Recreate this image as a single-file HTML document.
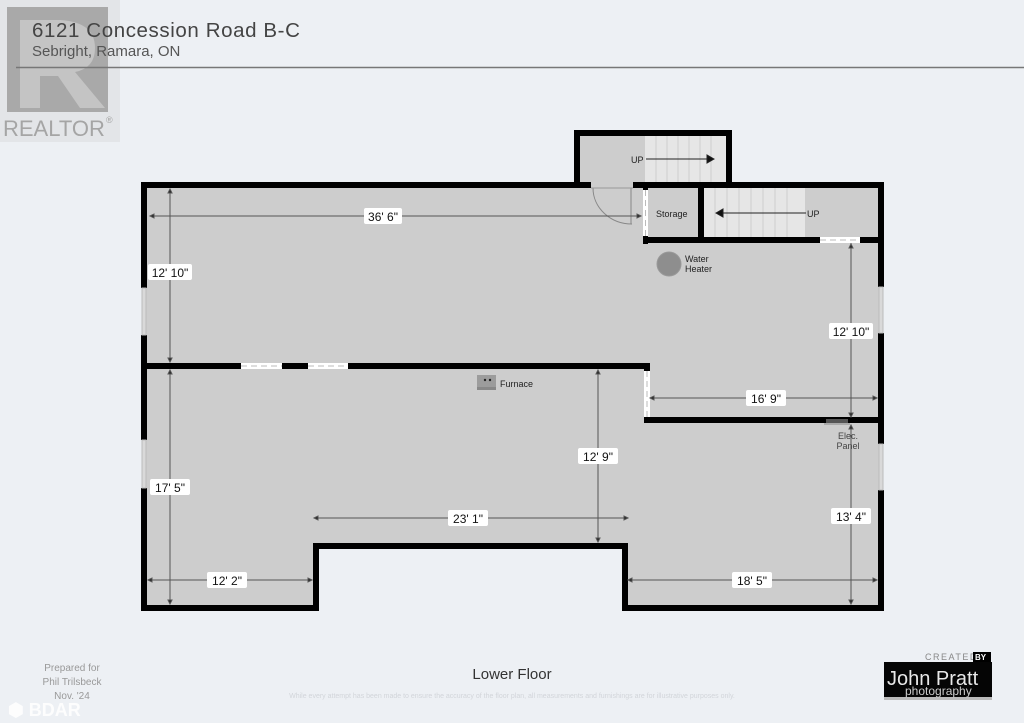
<!DOCTYPE html>
<html><head><meta charset="utf-8"><style>
html,body{margin:0;padding:0;background:#edf0f4;}
body{width:1024px;height:723px;position:relative;overflow:hidden;font-family:"Liberation Sans",sans-serif;}
</style></head><body>
<svg width="1024" height="723" viewBox="0 0 1024 723" xmlns="http://www.w3.org/2000/svg" style="position:absolute;left:0;top:0">
<rect width="1024" height="723" fill="#edf0f4"/>
<!-- realtor logo -->
<rect x="0" y="0" width="120" height="142" fill="#e3e5e8"/>
<rect x="7" y="7" width="101" height="105" fill="#a9a9a9"/>
<path d="M20 20 H60 Q95 22 95 48 Q95 68 75 72 L105 108 H80 L58 76 H40 V108 H20 Z" fill="#c4c4c4"/>
<text x="3" y="136" font-size="22" fill="#a5a5a5" font-family="Liberation Sans,sans-serif">REALTOR</text>
<text x="106" y="123" font-size="9" fill="#a5a5a5">®</text>
<!-- title -->
<text x="32" y="37" font-size="20.5" fill="#444" letter-spacing="0.6">6121 Concession Road B-C</text>
<text x="32" y="56" font-size="15" fill="#555">Sebright, Ramara, ON</text>
<line x1="16" y1="67.5" x2="1024" y2="67.5" stroke="#777" stroke-width="1.5"/>
<!-- floor fills -->
<path d="M144 185 H880 V608 H625 V546 H316 V608 H144 Z" fill="#cdcdcd"/>
<rect x="577" y="133" width="152" height="54" fill="#cdcdcd"/>
<!-- stairs upper -->
<rect x="645" y="136" width="81" height="46" fill="#e6e6e6"/>
<g stroke="#cfcfcf" stroke-width="1">
<line x1="656" y1="136" x2="656" y2="182"/><line x1="667" y1="136" x2="667" y2="182"/><line x1="678" y1="136" x2="678" y2="182"/><line x1="689" y1="136" x2="689" y2="182"/><line x1="700" y1="136" x2="700" y2="182"/><line x1="711" y1="136" x2="711" y2="182"/>
</g>
<!-- stairs lower -->
<rect x="704" y="188" width="101" height="50" fill="#e6e6e6"/>
<g stroke="#cfcfcf" stroke-width="1">
<line x1="715" y1="188" x2="715" y2="238"/><line x1="727" y1="188" x2="727" y2="238"/><line x1="739" y1="188" x2="739" y2="238"/><line x1="751" y1="188" x2="751" y2="238"/><line x1="763" y1="188" x2="763" y2="238"/><line x1="775" y1="188" x2="775" y2="238"/><line x1="787" y1="188" x2="787" y2="238"/>
</g>
<!-- walls -->
<g fill="#000">
<rect x="141" y="182" width="450" height="6"/>
<rect x="633" y="182" width="251" height="6"/>
<rect x="574" y="130" width="158" height="6"/>
<rect x="574" y="130" width="6" height="58"/>
<rect x="726" y="130" width="6" height="58"/>
<rect x="141" y="182" width="6" height="106"/>
<rect x="141" y="335" width="6" height="105"/>
<rect x="141" y="488" width="6" height="123"/>
<rect x="141" y="605" width="177" height="6"/>
<rect x="313" y="543" width="6" height="68"/>
<rect x="313" y="543" width="315" height="6"/>
<rect x="622" y="543" width="6" height="68"/>
<rect x="622" y="605" width="262" height="6"/>
<rect x="878" y="182" width="6" height="105"/>
<rect x="878" y="333" width="6" height="111"/>
<rect x="878" y="490" width="6" height="121"/>
<rect x="643" y="182" width="5" height="62"/>
<rect x="643" y="237" width="177" height="6"/>
<rect x="860" y="237" width="24" height="6"/>
<rect x="698" y="182" width="6" height="60"/>
<rect x="141" y="363" width="100" height="6"/>
<rect x="282" y="363" width="26" height="6"/>
<rect x="348" y="363" width="302" height="6"/>
<rect x="644" y="363" width="6" height="8"/>
<rect x="644" y="417" width="240" height="6"/>
</g>
<!-- door openings -->
<g>
<rect x="643" y="190" width="5" height="46" fill="#fff"/>
<line x1="645.5" y1="190" x2="645.5" y2="236" stroke="#bbb" stroke-width="1" stroke-dasharray="6,4"/>
<rect x="820" y="237" width="40" height="6" fill="#fff"/>
<line x1="820" y1="240" x2="860" y2="240" stroke="#bbb" stroke-dasharray="6,4"/>
<rect x="241" y="363" width="41" height="6" fill="#fff"/>
<line x1="241" y1="366" x2="282" y2="366" stroke="#bbb" stroke-dasharray="6,4"/>
<rect x="308" y="363" width="40" height="6" fill="#fff"/>
<line x1="308" y1="366" x2="348" y2="366" stroke="#bbb" stroke-dasharray="6,4"/>
<rect x="644" y="371" width="6" height="46" fill="#fff"/>
<line x1="647" y1="371" x2="647" y2="417" stroke="#bbb" stroke-dasharray="6,4"/>
</g>
<!-- windows -->
<g fill="#d9d9d9" stroke="#bbb" stroke-width="1">
<rect x="142" y="288" width="4" height="47"/>
<rect x="142" y="440" width="4" height="48"/>
<rect x="879" y="287" width="4" height="46"/>
<rect x="879" y="444" width="4" height="46"/>
</g>
<path d="M593 188 A39 36 0 0 0 632 224" fill="none" stroke="#888" stroke-width="1"/>
<line x1="631" y1="188" x2="631" y2="224" stroke="#888"/>
<line x1="591" y1="188" x2="633" y2="188" stroke="#999"/>
<rect x="826" y="419" width="22" height="4" fill="#555"/>
<rect x="824" y="423" width="26" height="2" fill="#aaa"/>
<circle cx="669" cy="264" r="12" fill="#8e8e8e" stroke="#999"/>
<rect x="477" y="375" width="19" height="14" fill="#9c9c9c"/>
<rect x="477" y="387" width="19" height="3" fill="#888"/>
<circle cx="485" cy="380" r="1.2" fill="#222"/><circle cx="490" cy="380" r="1.2" fill="#222"/>
<g stroke="#222" stroke-width="1" fill="#111">
<line x1="646" y1="159" x2="708" y2="159"/><path d="M714 159 L707 155 L707 163 Z"/>
<line x1="722" y1="213" x2="806" y2="213"/><path d="M716 213 L723 209 L723 217 Z"/>
</g>
<g stroke="#555" stroke-width="1" fill="#222">
<line x1="150" y1="216" x2="640" y2="216"/><path d="M150 216 l4 -2 v4z"/><path d="M641 216 l-4 -2 v4z"/>
<line x1="170" y1="190" x2="170" y2="362"/><path d="M170 189 l-2 4 h4z"/><path d="M170 362 l-2 -4 h4z"/>
<line x1="170" y1="370" x2="170" y2="604"/><path d="M170 370 l-2 4 h4z"/><path d="M170 604 l-2 -4 h4z"/>
<line x1="851" y1="243" x2="851" y2="417"/><path d="M851 244 l-2 4 h4z"/><path d="M851 417 l-2 -4 h4z"/>
<line x1="650" y1="398" x2="877" y2="398"/><path d="M650 398 l4 -2 v4z"/><path d="M877 398 l-4 -2 v4z"/>
<line x1="598" y1="370" x2="598" y2="542"/><path d="M598 370 l-2 4 h4z"/><path d="M598 542 l-2 -4 h4z"/>
<line x1="314" y1="518" x2="628" y2="518"/><path d="M314 518 l4 -2 v4z"/><path d="M628 518 l-4 -2 v4z"/>
<line x1="851" y1="425" x2="851" y2="604"/><path d="M851 425 l-2 4 h4z"/><path d="M851 604 l-2 -4 h4z"/>
<line x1="148" y1="580" x2="312" y2="580"/><path d="M148 580 l4 -2 v4z"/><path d="M312 580 l-4 -2 v4z"/>
<line x1="628" y1="580" x2="877" y2="580"/><path d="M628 580 l4 -2 v4z"/><path d="M877 580 l-4 -2 v4z"/>
</g>
<g font-size="12" fill="#111" text-anchor="middle">
<rect x="364" y="208" width="38" height="16" fill="#fff" rx="2"/><text x="383" y="221">36' 6"</text>
<rect x="148" y="264" width="44" height="16" fill="#fff" rx="2"/><text x="170" y="277">12' 10"</text>
<rect x="150" y="479" width="40" height="16" fill="#fff" rx="2"/><text x="170" y="492">17' 5"</text>
<rect x="829" y="323" width="44" height="16" fill="#fff" rx="2"/><text x="851" y="336">12' 10"</text>
<rect x="746" y="390" width="40" height="16" fill="#fff" rx="2"/><text x="766" y="403">16' 9"</text>
<rect x="578" y="448" width="40" height="16" fill="#fff" rx="2"/><text x="598" y="461">12' 9"</text>
<rect x="448" y="510" width="40" height="16" fill="#fff" rx="2"/><text x="468" y="523">23' 1"</text>
<rect x="831" y="508" width="40" height="16" fill="#fff" rx="2"/><text x="851" y="521">13' 4"</text>
<rect x="207" y="572" width="40" height="16" fill="#fff" rx="2"/><text x="227" y="585">12' 2"</text>
<rect x="732" y="572" width="40" height="16" fill="#fff" rx="2"/><text x="752" y="585">18' 5"</text>
</g>
<g font-size="9" fill="#222">
<text x="631" y="163">UP</text>
<text x="807" y="217">UP</text>
<text x="656" y="217">Storage</text>
<text x="685" y="262">Water</text><text x="685" y="272">Heater</text>
<text x="500" y="387">Furnace</text>
<text x="848" y="439" text-anchor="middle" fill="#444">Elec.</text><text x="848" y="449" text-anchor="middle" fill="#444">Panel</text>
</g>
<text x="512" y="679" font-size="15" fill="#333" text-anchor="middle">Lower Floor</text>
<text x="512" y="698" font-size="7" fill="#d2d5da" text-anchor="middle">While every attempt has been made to ensure the accuracy of the floor plan, all measurements and furnishings are for illustrative purposes only.</text>
<g font-size="10" fill="#999" text-anchor="middle">
<text x="72" y="671">Prepared for</text><text x="72" y="685">Phil Trilsbeck</text><text x="72" y="699">Nov. '24</text>
</g>
<text x="8" y="716" font-size="18" font-weight="bold" fill="#fff" opacity="0.9">⬢ BDAR</text>
<text x="925" y="660" font-size="9" fill="#888" letter-spacing="1.5">CREATED</text>
<rect x="973" y="652" width="18" height="10" fill="#000"/><text x="975" y="660" font-size="8" fill="#fff" font-weight="bold">BY</text>
<rect x="884" y="662" width="108" height="35" fill="#050505"/>
<rect x="884" y="697" width="108" height="3" fill="#bbb"/>
<text x="887" y="685" font-size="20" fill="#e8e8e8">John Pratt</text>
<text x="905" y="695" font-size="12" fill="#ccc">photography</text>
</svg>
</body></html>
